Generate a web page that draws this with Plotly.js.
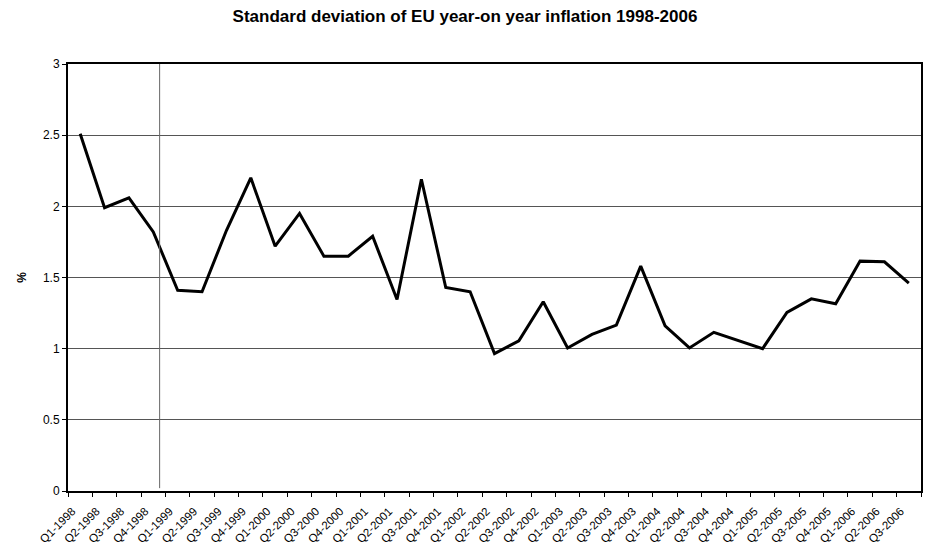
<!DOCTYPE html>
<html>
<head>
<meta charset="utf-8">
<script src="https://cdn.plot.ly/plotly-3.0.1.min.js"></script>
<style>html,body{margin:0;padding:0;background:#fff;}#chart{width:930px;height:558px;}</style>
</head>
<body>
<div id="chart"></div>
<script>
const quarters = ["Q1-1998","Q2-1998","Q3-1998","Q4-1998","Q1-1999","Q2-1999","Q3-1999","Q4-1999",
  "Q1-2000","Q2-2000","Q3-2000","Q4-2000","Q1-2001","Q2-2001","Q3-2001","Q4-2001",
  "Q1-2002","Q2-2002","Q3-2002","Q4-2002","Q1-2003","Q2-2003","Q3-2003","Q4-2003",
  "Q1-2004","Q2-2004","Q3-2004","Q4-2004","Q1-2005","Q2-2005","Q3-2005","Q4-2005",
  "Q1-2006","Q2-2006","Q3-2006"];
const stdDev = [2.51,1.99,2.06,1.82,1.41,1.40,1.83,2.20,
  1.72,1.95,1.65,1.65,1.79,1.345,2.19,1.43,
  1.40,0.965,1.055,1.33,1.005,1.10,1.165,1.58,
  1.16,1.005,1.115,1.06,1.0,1.255,1.35,1.315,
  1.615,1.61,1.46];
const yTicks = [0,0.5,1,1.5,2,2.5,3];
const euroMarker = 3.26; // vertical marker line between Q4-1998 and Q1-1999

const font = "Liberation Sans, Arial, sans-serif";
Plotly.newPlot("chart", [{
  x: quarters, y: stdDev, type: "scatter", mode: "lines",
  line: {color: "#000", width: 3}, hoverinfo: "skip"
}], {
  width: 930, height: 558,
  paper_bgcolor: "#fff", plot_bgcolor: "#fff",
  margin: {l: 68, r: 9, t: 64, b: 67},
  showlegend: false,
  font: {family: font, color: "#000"},
  title: {text: "<b>Standard deviation of EU year-on year inflation 1998-2006</b>",
    font: {family: font, size: 17, color: "#000"}, x: 0.5, xanchor: "center", y: 0.971, yanchor: "middle"},
  xaxis: {type: "category", range: [-0.5, 34.5], tickangle: -45, tickson: "boundaries",
    ticks: "outside", ticklen: 4, tickcolor: "#000", tickwidth: 1,
    ticklabelstandoff: 7, ticklabelshift: -8,
    showline: true, linecolor: "#000", linewidth: 2, mirror: true,
    showgrid: false, tickfont: {size: 11.5, family: font}, automargin: false},
  yaxis: {range: [0, 3], tickvals: yTicks, ticktext: yTicks.map(String),
    ticks: "outside", ticklen: 4, tickcolor: "#000", tickwidth: 1,
    showline: true, linecolor: "#000", linewidth: 2, mirror: true,
    showgrid: true, gridcolor: "#555", gridwidth: 1, zeroline: false,
    tickfont: {size: 12, family: font},
    title: {text: "<b>%</b>", font: {size: 12, family: font}, standoff: 14}, automargin: false},
  shapes: [{type: "line", xref: "x", yref: "y", x0: euroMarker, x1: euroMarker, y0: 0.02, y1: 3,
    line: {color: "#666", width: 1}}]
}, {displayModeBar: false, staticPlot: true});
</script>
</body>
</html>
